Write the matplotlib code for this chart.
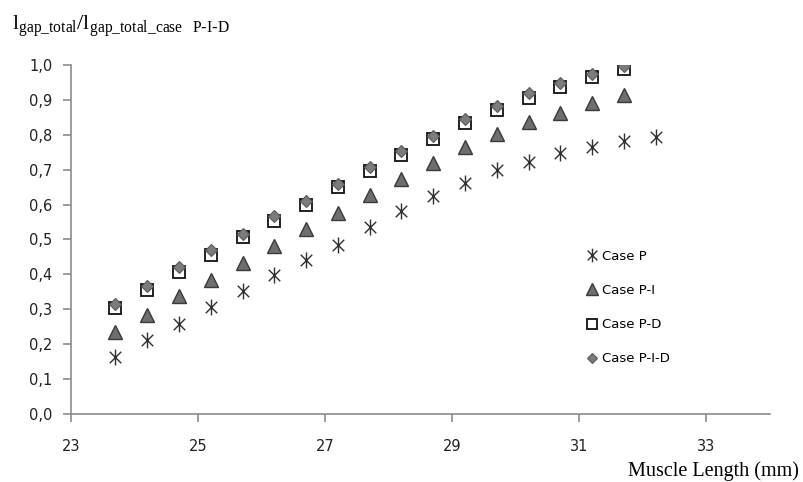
import matplotlib
matplotlib.use("Agg")
import matplotlib.pyplot as plt
from matplotlib.path import Path
from matplotlib.ticker import FuncFormatter, MultipleLocator

# ---- data ----
x_pid = [23.7, 24.2, 24.7, 25.2, 25.7, 26.2, 26.7, 27.2, 27.7, 28.2, 28.7,
         29.2, 29.7, 30.2, 30.7, 31.2, 31.7]
x_p = x_pid + [32.2]

case_p = [0.162, 0.212, 0.258, 0.306, 0.352, 0.398, 0.440, 0.484, 0.537, 0.583,
          0.625, 0.661, 0.699, 0.723, 0.747, 0.766, 0.782, 0.793]
case_pi = [0.234, 0.284, 0.338, 0.384, 0.434, 0.480, 0.531, 0.577, 0.627, 0.672,
           0.718, 0.764, 0.802, 0.838, 0.863, 0.890, 0.914]
case_pd = [0.303, 0.355, 0.406, 0.456, 0.506, 0.553, 0.600, 0.649, 0.696, 0.742,
           0.788, 0.833, 0.871, 0.905, 0.938, 0.965, 0.988]
case_pid = [0.315, 0.368, 0.420, 0.470, 0.516, 0.568, 0.611, 0.659, 0.709, 0.754,
            0.797, 0.845, 0.883, 0.919, 0.947, 0.974, 0.998]

labels = ["Case P", "Case P-I", "Case P-D", "Case P-I-D"]
x_ticks = [23, 25, 27, 29, 31, 33]

# ---- figure ----
plt.rcParams['font.family'] = ['DejaVu Sans']
plt.rcParams['mathtext.default'] = 'regular'

fig = plt.figure(figsize=(8.04, 4.82), dpi=100)
ax = fig.add_axes([71/804, 1-414/482, (770-71)/804, (414-65)/482])

star = Path([(0, -1), (0, 1), (-0.72, -0.72), (0.72, 0.72), (-0.72, 0.72), (0.72, -0.72)],
            [Path.MOVETO, Path.LINETO, Path.MOVETO, Path.LINETO, Path.MOVETO, Path.LINETO])

ax.plot(x_p, case_p, linestyle='none', marker=star, ms=11.5, mew=1.0,
        mec='#303030', mfc='none', label=labels[0], zorder=3)
ax.plot(x_pid, case_pi, linestyle='none', marker='^', ms=9.5, mew=1.0,
        mec='#3a3a3a', mfc='#6e6e6e', label=labels[1], zorder=3)
ax.plot(x_pid, case_pd, linestyle='none', marker='s', ms=8, mew=1.3,
        mec='#111111', mfc='white', label=labels[2], zorder=3)
ax.plot(x_pid, case_pid, linestyle='none', marker='D', ms=6.3, mew=0.8,
        mec='#5a5a5a', mfc='#7c7c7c', label=labels[3], zorder=4)

ax.set_xlim(23, 34)
ax.set_ylim(0, 1.0)
ax.set_xticks(x_ticks)
ax.yaxis.set_major_locator(MultipleLocator(0.1))
ax.yaxis.set_major_formatter(FuncFormatter(lambda v, p: f"{v:.1f}".replace('.', ',')))

for s in ['top', 'right']:
    ax.spines[s].set_visible(False)
for s in ['left', 'bottom']:
    ax.spines[s].set_color('#8c8c8c')
    ax.spines[s].set_linewidth(1.2)
ax.tick_params(axis='both', direction='out', color='#8c8c8c', width=1.2,
               length=5.5, labelsize=10.5, labelcolor='#222222')
ax.tick_params(axis='x', pad=12.5)
ax.tick_params(axis='y', pad=8)

leg = ax.legend(loc='upper left', bbox_to_anchor=(588/804, 1-250/482),
                bbox_transform=fig.transFigure, frameon=False, fontsize=9.5,
                handlelength=0.6, handletextpad=0.45, labelspacing=1.6,
                borderpad=0, borderaxespad=0, markerscale=0.85)

fig.text(12/804, 1-30/482,
         r'$l_{gap\_total}/l_{gap\_total\_case\ \ P\text{-}I\text{-}D}$',
         fontsize=16, family='Liberation Serif', ha='left', va='baseline')
fig.text(799/804, 1-476/482, 'Muscle Length (mm)', fontsize=14.5,
         family='Liberation Serif', ha='right', va='baseline')

fig.savefig('out.png', dpi=100)
